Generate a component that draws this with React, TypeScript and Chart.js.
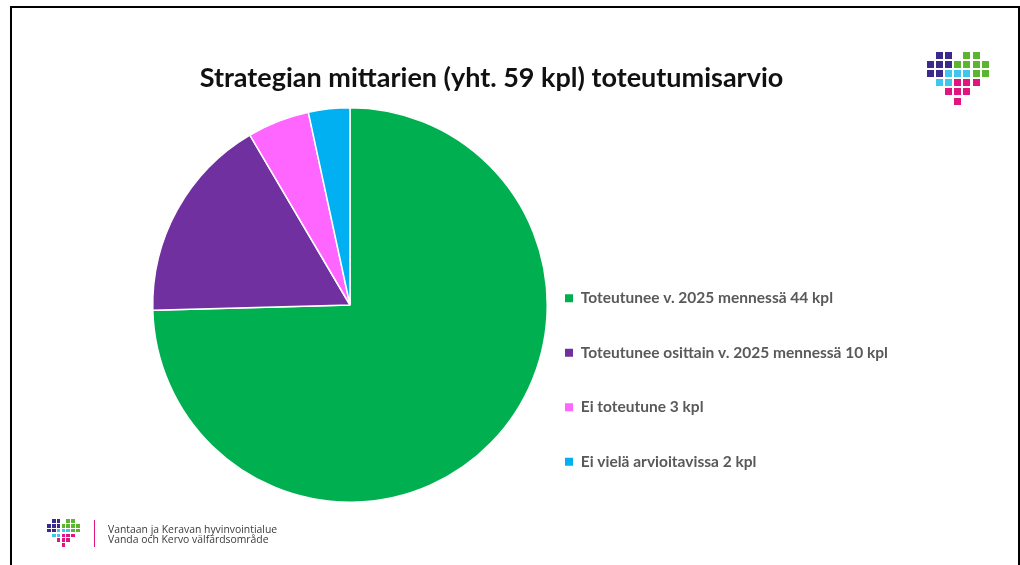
import React, { useEffect, useRef } from "react";
import { Chart, registerables } from "chart.js";

Chart.register(...registerables);

const categories = [
  "Toteutunee v. 2025 mennessä 44 kpl",
  "Toteutunee osittain v. 2025 mennessä 10 kpl",
  "Ei toteutune 3 kpl",
  "Ei vielä arvioitavissa 2 kpl",
];
const values = [44, 10, 3, 2];
const colors = ["#00B050", "#7030A0", "#FF66FF", "#00B0F0"];
const titleText = "Strategian mittarien (yht. 59 kpl) toteutumisarvio";
const orgLines = ["Vantaan ja Keravan hyvinvointialue", "Vanda och Kervo välfärdsområde"];

const heartRows = [".VV.GG.", "VVVGGGG", "VVCCCGG", ".CCKKK.", "..KKK..", "...K..."];
const heartColors: Record<string, string> = {
  V: "#3b2a8c",
  G: "#5ab52f",
  C: "#3fc6ef",
  K: "#e0157f",
};

function Heart({ x, y, pitch, size }: { x: number; y: number; pitch: number; size: number }) {
  const cells: React.ReactNode[] = [];
  heartRows.forEach((row, r) => {
    row.split("").forEach((ch, c) => {
      if (ch === ".") return;
      cells.push(
        <div
          key={r + "-" + c}
          style={{
            position: "absolute",
            left: x + c * pitch,
            top: y + r * pitch,
            width: size,
            height: size,
            background: heartColors[ch],
          }}
        />
      );
    });
  });
  return <>{cells}</>;
}

const placePlugin = {
  id: "place",
  afterLayout(chart: any) {
    const ca = chart.chartArea;
    ca.left = 152;
    ca.top = 107;
    ca.right = 548;
    ca.bottom = 503;
    ca.width = 396;
    ca.height = 396;
    const lg = chart.legend;
    if (lg) {
      const pad = 39;
      const w = lg.width;
      lg.left = 565 - pad;
      lg.right = lg.left + w;
      lg.top = 290.5 - pad;
      lg.bottom = 562;
      lg.height = lg.bottom - lg.top;
    }
  },
};

export default function App() {
  const ref = useRef<HTMLCanvasElement>(null);
  useEffect(() => {
    if (!ref.current) return;
    const chart = new Chart(ref.current, {
      type: "pie",
      data: {
        labels: categories,
        datasets: [
          {
            data: values,
            backgroundColor: colors,
            borderColor: "#ffffff",
            borderWidth: 1.5,
          },
        ],
      },
      options: {
        responsive: false,
        maintainAspectRatio: false,
        animation: false,
        plugins: {
          tooltip: { enabled: false },
          title: { display: false },
          legend: {
            display: true,
            position: "right",
            align: "start",
            labels: {
              boxWidth: 8,
              boxHeight: 8,
              padding: 39,
              color: "#595959",
              font: { family: "Lato, 'Open Sans', sans-serif", size: 15.5, weight: "bold" },
              generateLabels: () =>
                categories.map((t, i) => ({
                  text: t,
                  fillStyle: colors[i],
                  strokeStyle: colors[i],
                  lineWidth: 0,
                  hidden: false,
                  index: i,
                  fontColor: "#595959",
                })),
            },
          },
        },
      },
      plugins: [placePlugin],
    });
    return () => chart.destroy();
  }, []);

  return (
    <div
      style={{
        position: "fixed",
        left: 0,
        top: 0,
        width: 1020,
        height: 565,
        overflow: "hidden",
        background: "#ffffff",
      }}
    >
      <div
        style={{
          position: "absolute",
          left: 10,
          top: 6,
          width: 1010,
          height: 620,
          border: "2px solid #000",
          boxSizing: "border-box",
        }}
      />
      <canvas
        ref={ref}
        width={1020}
        height={565}
        style={{ position: "absolute", left: 0, top: 0, width: 1020, height: 565 }}
      />
      <div
        style={{
          position: "absolute",
          left: 0,
          top: 61,
          width: 983,
          textAlign: "center",
          fontFamily: "Lato, 'Open Sans', sans-serif",
          fontWeight: "bold",
          fontSize: 27,
          lineHeight: "32px",
          color: "#111",
          whiteSpace: "nowrap",
        }}
      >
        {titleText}
      </div>
      <Heart x={927} y={52} pitch={9.1} size={7} />
      <Heart x={47} y={519} pitch={4.85} size={3.8} />
      <div
        style={{
          position: "absolute",
          left: 94,
          top: 520,
          width: 1,
          height: 27,
          background: "#e0157f",
        }}
      />
      <div
        style={{
          position: "absolute",
          left: 108,
          top: 523.5,
          fontFamily: "'Open Sans', sans-serif",
          fontSize: 10.4,
          lineHeight: "10.5px",
          color: "#3a3a3a",
          whiteSpace: "nowrap",
        }}
      >
        <div>{orgLines[0]}</div>
        <div>{orgLines[1]}</div>
      </div>
    </div>
  );
}
